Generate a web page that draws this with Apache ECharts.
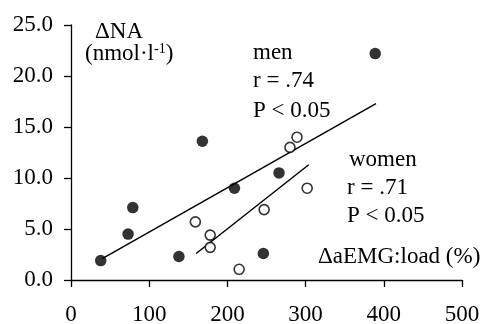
<!DOCTYPE html>
<html><head><meta charset="utf-8">
<script src="https://cdn.jsdelivr.net/npm/echarts@6/dist/echarts.min.js"></script>
<style>html,body{margin:0;padding:0;background:#fff}#c{width:481px;height:324px}</style>
</head><body><div id="c"></div>
<script>
// Data
const menX = [38, 73, 79, 138, 168, 209, 246, 266, 389];
const menY = [1.9, 4.5, 7.1, 2.3, 13.6, 9.0, 2.6, 10.5, 22.2];
const womenX = [159, 178, 178, 215, 247, 280, 289, 302];
const womenY = [5.7, 4.4, 3.2, 1.05, 6.9, 13.0, 14.0, 9.0];
const menFitX = [40, 390];
const menFitY = [2.1, 17.3];
const womenFitX = [160, 304];
const womenFitY = [2.6, 11.3];
const xTicks = [0, 100, 200, 300, 400, 500];
const yTicks = [0, 5, 10, 15, 20, 25];

const FONT = '"Liberation Serif", "Times New Roman", serif';
const FS = 23;
const zip = (a, b) => a.map((v, i) => [v, b[i]]);

const chart = echarts.init(document.getElementById('c'));
const axisCommon = {
  axisLine: {show: true, lineStyle: {color: '#000', width: 1.3}},
  axisTick: {show: true, inside: false, length: 7, lineStyle: {color: '#000', width: 1.3}},
  splitLine: {show: false},
  axisLabel: {color: '#000', fontFamily: FONT, fontSize: FS}
};
chart.setOption({
  animation: false,
  backgroundColor: '#fff',
  grid: {left: 71, right: 19, top: 25, bottom: 44, containLabel: false, outerBoundsMode: 'none'},
  xAxis: Object.assign({type: 'value', min: xTicks[0], max: xTicks[xTicks.length-1], interval: 100}, axisCommon,
    {axisLabel: Object.assign({}, axisCommon.axisLabel, {margin: 23})}),
  yAxis: Object.assign({type: 'value', min: yTicks[0], max: yTicks[yTicks.length-1], interval: 5}, axisCommon,
    {axisLabel: Object.assign({}, axisCommon.axisLabel, {margin: 18, formatter: v => v.toFixed(1)})}),
  series: [
    {type: 'line', data: zip(menFitX, menFitY), symbol: 'none', lineStyle: {color: '#000', width: 1.5}, z: 1},
    {type: 'line', data: zip(womenFitX, womenFitY), symbol: 'none', lineStyle: {color: '#000', width: 1.5}, z: 1},
    {type: 'scatter', data: zip(menX, menY), symbol: 'circle', symbolSize: 11.5, itemStyle: {color: '#000'}, z: 3},
    {type: 'scatter', data: zip(womenX, womenY), symbol: 'circle', symbolSize: 10, itemStyle: {color: '#fff', borderColor: '#000', borderWidth: 1.6}, z: 3}
  ],
  graphic: [
    {type: 'text', left: 95, top: 20, style: {text: 'ΔNA', font: `${FS}px ${FONT}`, fill: '#000'}},
    {type: 'text', left: 85, top: 42, style: {
      text: '(nmol·l{s|-1})', font: `${FS}px ${FONT}`, fill: '#000',
      rich: {s: {fontSize: 14, fontFamily: FONT, verticalAlign: 'top', padding: [0,0,10,0]}}
    }},
    {type: 'text', left: 253, top: 41, style: {text: 'men', font: `${FS}px ${FONT}`, fill: '#000'}},
    {type: 'text', left: 253, top: 69, style: {text: 'r = .74', font: `${FS}px ${FONT}`, fill: '#000'}},
    {type: 'text', left: 253, top: 99, style: {text: 'P < 0.05', font: `${FS}px ${FONT}`, fill: '#000'}},
    {type: 'text', left: 349, top: 148, style: {text: 'women', font: `${FS}px ${FONT}`, fill: '#000'}},
    {type: 'text', left: 347, top: 176, style: {text: 'r = .71', font: `${FS}px ${FONT}`, fill: '#000'}},
    {type: 'text', left: 347, top: 204, style: {text: 'P < 0.05', font: `${FS}px ${FONT}`, fill: '#000'}},
    {type: 'text', left: 318, top: 245, style: {text: 'ΔaEMG:load (%)', font: `${FS}px ${FONT}`, fill: '#000'}}
  ]
});
</script></body></html>
